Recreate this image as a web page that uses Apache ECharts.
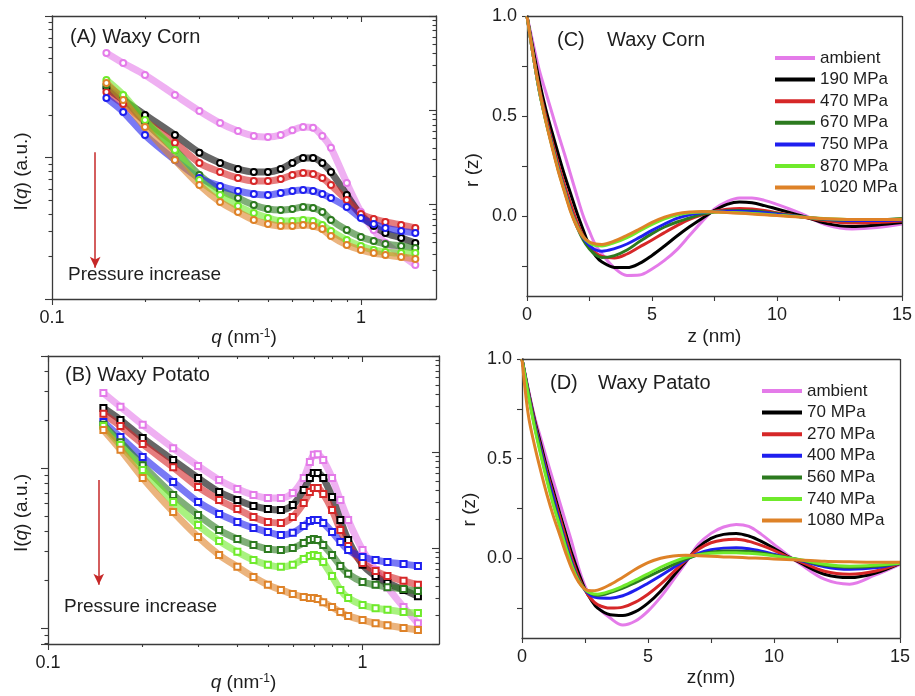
<!DOCTYPE html>
<html><head><meta charset="utf-8">
<script src="https://cdn.jsdelivr.net/npm/echarts@6/dist/echarts.min.js"></script>
<style>html,body{margin:0;padding:0;background:#fff}#c{width:915px;height:696px}</style>
</head><body><div id="c"></div>
<script>
// ---------- Panel A (Waxy Corn SAXS) ----------
const qA = [0.15,0.17,0.2,0.25,0.3,0.35,0.4,0.45,0.5,0.55,0.6,0.65,0.7,0.75,0.8,0.9,1.0,1.1,1.2,1.35,1.5];
const A_ambient = [54.8,46.5,38.3,27.7,21.3,17.5,15.4,14.2,13.96,14.4,15.6,16.4,16.2,14.2,11.7,6.60,4.12,3.07,2.49,2.05,1.74];
const A_190 = [31.0,25.5,20.0,14.4,10.8,9.15,8.29,7.90,7.90,8.29,9.15,9.92,9.92,9.15,7.90,5.43,3.92,3.28,2.93,2.70,2.49];
const A_470 = [29.0,23.9,18.1,12.7,9.15,7.90,7.16,6.82,6.82,7.05,7.52,7.77,7.64,7.16,6.39,5.01,3.99,3.68,3.50,3.33,3.18];
const A_670 = [32.5,26.3,17.8,11.3,7.52,5.89,5.17,4.62,4.33,4.26,4.33,4.47,4.40,4.12,3.62,3.07,2.74,2.57,2.45,2.37,2.29];
const A_750 = [26.3,21.0,14.4,9.60,7.16,6.29,5.80,5.52,5.43,5.61,5.80,5.89,5.80,5.52,5.17,4.47,3.74,3.39,3.18,3.02,2.93];
const A_870 = [35.3,27.7,18.4,11.3,6.93,5.43,4.54,4.05,3.74,3.56,3.56,3.62,3.56,3.33,3.02,2.61,2.37,2.22,2.15,2.11,2.11];
const A_1020 = [33.6,25.5,16.4,9.60,6.39,4.85,4.12,3.62,3.39,3.28,3.28,3.33,3.28,3.12,2.79,2.41,2.22,2.11,2.05,1.98,1.92];

// ---------- Panel B (Waxy Potato SAXS) ----------
const qB = [0.15,0.17,0.2,0.25,0.3,0.35,0.4,0.45,0.5,0.55,0.6,0.65,0.68,0.7,0.72,0.75,0.8,0.85,0.9,1.0,1.1,1.2,1.35,1.5];
const B_ambient = [29.4,24.1,18.6,13.3,10.3,8.41,7.39,6.78,6.49,6.49,6.98,8.66,10.9,12.1,12.2,11.2,8.66,6.31,4.73,3.07,2.30,1.80,1.35,1.07];
const B_70 = [23.7,19.95,15.4,11.2,8.66,7.08,6.31,5.79,5.54,5.46,5.87,7.29,8.66,9.31,9.31,8.66,6.59,4.73,3.55,2.48,2.11,1.91,1.73,1.58];
const B_270 = [21.8,18.3,14.1,10.1,7.61,6.31,5.54,4.94,4.60,4.53,4.94,6.04,7.08,7.50,7.50,6.88,5.46,4.10,3.25,2.55,2.27,2.11,1.97,1.86];
const B_400 = [19.4,15.6,11.7,8.18,6.13,5.16,4.60,4.22,3.98,3.81,3.93,4.34,4.67,4.73,4.73,4.53,3.98,3.45,3.07,2.78,2.66,2.58,2.51,2.44];
const B_560 = [18.6,14.5,10.4,6.78,5.08,4.10,3.60,3.30,3.12,3.07,3.16,3.40,3.55,3.60,3.55,3.30,2.86,2.44,2.18,1.94,1.86,1.80,1.75,1.70];
const B_740 = [18.3,13.9,9.72,6.13,4.40,3.50,2.99,2.66,2.48,2.41,2.48,2.70,2.82,2.86,2.82,2.58,2.11,1.73,1.54,1.39,1.33,1.30,1.26,1.24];
const B_1080 = [17.3,13.0,8.66,5.31,3.70,2.86,2.41,2.08,1.86,1.73,1.63,1.56,1.54,1.54,1.52,1.45,1.35,1.26,1.19,1.12,1.07,1.04,1.00,0.972];

// ---------- Panel C (Waxy Corn correlation) ----------
const zC = [0,0.25,0.5,0.75,1,1.25,1.5,1.75,2,2.25,2.5,2.75,3,3.5,4,4.5,5,5.5,6,6.5,7,7.5,8,8.5,9,9.5,10,10.5,11,12,13,14,15];
const C_ambient = [1.0,0.86,0.725,0.62,0.515,0.41,0.31,0.205,0.10,0.0,-0.078,-0.147,-0.19,-0.26,-0.297,-0.295,-0.265,-0.222,-0.168,-0.098,-0.028,0.035,0.072,0.09,0.09,0.078,0.058,0.035,0.01,-0.045,-0.065,-0.058,-0.04];
const C_190 = [1,0.83,0.67,0.535,0.42,0.31,0.205,0.11,0.015,-0.07,-0.15,-0.2,-0.23,-0.257,-0.258,-0.237,-0.197,-0.15,-0.1,-0.054,-0.012,0.028,0.058,0.07,0.066,0.052,0.035,0.018,0.0,-0.038,-0.053,-0.045,-0.033];
const C_470 = [1,0.81,0.635,0.5,0.375,0.26,0.155,0.06,-0.03,-0.1,-0.15,-0.185,-0.202,-0.21,-0.19,-0.155,-0.12,-0.083,-0.048,-0.017,0.006,0.024,0.034,0.038,0.035,0.028,0.016,0.006,-0.005,-0.025,-0.035,-0.032,-0.025];
const C_670 = [1,0.80,0.62,0.48,0.355,0.235,0.13,0.03,-0.055,-0.12,-0.165,-0.195,-0.208,-0.198,-0.17,-0.128,-0.088,-0.055,-0.03,-0.01,0.01,0.02,0.026,0.028,0.026,0.02,0.012,0.004,-0.004,-0.018,-0.024,-0.02,-0.012];
const C_750 = [1,0.80,0.62,0.48,0.355,0.235,0.13,0.03,-0.05,-0.11,-0.148,-0.17,-0.176,-0.163,-0.14,-0.107,-0.072,-0.04,-0.012,0.006,0.016,0.022,0.024,0.024,0.021,0.016,0.009,0.002,-0.005,-0.016,-0.022,-0.022,-0.02];
const C_870 = [1,0.80,0.62,0.475,0.35,0.23,0.125,0.025,-0.05,-0.105,-0.135,-0.148,-0.15,-0.133,-0.108,-0.075,-0.042,-0.014,0.005,0.016,0.02,0.02,0.018,0.016,0.013,0.009,0.004,0.0,-0.005,-0.014,-0.018,-0.018,-0.016];
const C_1020 = [1,0.80,0.625,0.475,0.345,0.225,0.12,0.02,-0.055,-0.105,-0.13,-0.14,-0.142,-0.125,-0.097,-0.065,-0.032,-0.006,0.012,0.02,0.022,0.02,0.017,0.014,0.01,0.006,0.002,-0.002,-0.006,-0.014,-0.018,-0.018,-0.016];

// ---------- Panel D (Waxy Potato correlation) ----------
const zD = [0,0.25,0.5,0.75,1,1.25,1.5,1.75,2,2.25,2.5,2.75,3,3.5,4,4.5,5,5.5,6,6.5,7,7.5,8,8.5,9,9.5,10,10.5,11,12,13,14,15];
const D_ambient = [1,0.85,0.71,0.6,0.49,0.385,0.28,0.175,0.07,-0.05,-0.14,-0.2,-0.245,-0.3,-0.335,-0.315,-0.265,-0.195,-0.11,-0.022,0.07,0.125,0.157,0.17,0.16,0.12,0.07,0.02,-0.025,-0.105,-0.13,-0.085,-0.03];
const D_70 = [1,0.84,0.695,0.57,0.445,0.335,0.225,0.12,0.015,-0.075,-0.155,-0.21,-0.25,-0.283,-0.287,-0.268,-0.225,-0.165,-0.09,-0.015,0.055,0.1,0.12,0.125,0.112,0.085,0.05,0.013,-0.02,-0.08,-0.097,-0.075,-0.025];
const D_270 = [1,0.835,0.685,0.55,0.43,0.315,0.205,0.095,-0.01,-0.095,-0.16,-0.205,-0.232,-0.25,-0.245,-0.22,-0.18,-0.13,-0.07,-0.01,0.045,0.078,0.092,0.095,0.085,0.065,0.04,0.01,-0.015,-0.065,-0.08,-0.065,-0.025];
const D_400 = [1,0.83,0.675,0.54,0.415,0.3,0.18,0.07,-0.03,-0.11,-0.16,-0.188,-0.198,-0.2,-0.188,-0.16,-0.125,-0.088,-0.048,-0.008,0.025,0.043,0.051,0.053,0.048,0.036,0.02,0.004,-0.01,-0.042,-0.055,-0.048,-0.025];
const D_560 = [1,0.825,0.665,0.525,0.395,0.275,0.165,0.055,-0.04,-0.11,-0.155,-0.178,-0.185,-0.172,-0.15,-0.122,-0.092,-0.062,-0.032,-0.004,0.018,0.03,0.036,0.037,0.034,0.026,0.015,0.004,-0.008,-0.035,-0.045,-0.04,-0.025];
const D_740 = [1,0.82,0.655,0.515,0.385,0.265,0.16,0.05,-0.045,-0.115,-0.158,-0.176,-0.18,-0.165,-0.14,-0.11,-0.078,-0.045,-0.018,0.004,0.018,0.025,0.028,0.028,0.025,0.02,0.012,0.003,-0.006,-0.03,-0.04,-0.035,-0.025];
const D_1080 = [1,0.72,0.565,0.435,0.315,0.21,0.117,0.022,-0.06,-0.12,-0.155,-0.163,-0.16,-0.132,-0.095,-0.055,-0.022,0.0,0.012,0.015,0.013,0.01,0.007,0.005,0.002,0.0,-0.003,-0.006,-0.008,-0.015,-0.018,-0.02,-0.02];

// ---------- labels / legend ----------
const namesC = ['ambient','190 MPa','470 MPa','670 MPa','750 MPa','870 MPa','1020 MPa'];
const namesD = ['ambient','70 MPa','270 MPa','400 MPa','560 MPa','740 MPa','1080 MPa'];
const colorsC = ['#e47be9','#000000','#d62728','#2c7a1f','#1f1fef','#6fea2b','#de8228'];
const colorsD = ['#e47be9','#000000','#d62728','#1f1fef','#2c7a1f','#6fea2b','#de8228'];
const seriesA = [A_ambient,A_190,A_470,A_670,A_750,A_870,A_1020];
const seriesB = [B_ambient,B_70,B_270,B_400,B_560,B_740,B_1080];
const seriesC = [C_ambient,C_190,C_470,C_670,C_750,C_870,C_1020];
const seriesD = [D_ambient,D_70,D_270,D_400,D_560,D_740,D_1080];

// tick values
const qMinorTicks = [0.2,0.3,0.4,0.5,0.6,0.7,0.8,0.9];
const yMinorA = [2,3,4,5,6,7,8,9,20,30,40,50,60,70,80,90];
const yMinorB = [0.8,0.9,2,3,4,5,6,7,8,9,20,30,40,50];
const yMinorRight = [2,3,4,5,6,7,8,9,20,30,40,50,60,70,80,90,200,300,400,500,600,700,800,900];
const zLabels = [0,5,10,15];
const rLabels = [0,0.5,1];
const rTicks = [-0.25,0,0.25,0.5,0.75,1];
// plot-frame extents of the r(z) panels (axis ranges) and arrows (data coordinates)
const zRange = [0, 15];
const rRange = [-0.4, 1.0];
const arrowA = {q:0.138, from:10.9, to:1.66};
const arrowB = {q:0.145, from:8.41, to:1.86};

const FONT = 'Liberation Sans, Arial, sans-serif';
const TXT = '#1e1e1e';
const AXC = '#3a3a3a';
const axLine = () => ({show:true, onZero:false, lineStyle:{color:AXC, width:1.3}});
const noLine = () => ({show:false, onZero:false});
const noLab = {show:false};
const noSplit = {show:false};
const tick = (len, inside, vals) => { const t = {show:true, length:len, inside:!!inside, lineStyle:{color:AXC, width:1.1}}; if (vals) t.customValues = vals; return t; };
const nameStyle = (pad) => ({fontSize:19, color:TXT, fontFamily:FONT, padding:pad||0, rich:{i:{fontStyle:'italic', fontSize:19, fontFamily:FONT, color:TXT}, s:{fontSize:12, fontFamily:FONT, color:TXT, verticalAlign:'top', lineHeight:19}}});
const labStyle = () => ({fontSize:18, color:TXT, fontFamily:FONT, margin:10});

const grids = [
  {left:52, top:16, width:384, height:283},   // 0 A
  {left:52, top:16, width:384, height:283},   // 1 A minor ticks
  {left:48, top:356, width:391, height:288},  // 2 B
  {left:48, top:356, width:391, height:288},  // 3 B minor ticks
  {left:527, top:16, width:378, height:280},  // 4 C
  {left:522, top:359, width:378, height:279}  // 5 D
];

function logX(grid, pos, opts) {
  return Object.assign({gridIndex:grid, type:'log', logBase:10, min:0.1, max:1.75, position:pos, splitLine:noSplit, axisLabel:noLab, axisLine:noLine()}, opts);
}
function logY(grid, pos, min, max, opts) {
  return Object.assign({gridIndex:grid, type:'log', logBase:10, min:min, max:max, position:pos, splitLine:noSplit, axisLabel:noLab, axisLine:noLine()}, opts);
}
function valAxis(grid, pos, min, max, opts) {
  return Object.assign({gridIndex:grid, type:'value', min:min, max:max, position:pos, splitLine:noSplit, axisLabel:noLab, axisLine:axLine()}, opts);
}

const xAxes = [
  // A
  logX(0,'bottom',{axisLine:axLine(), axisTick:tick(6,false), axisLabel:Object.assign({showMaxLabel:false}, labStyle()), name:'{i|q} (nm{s|-1})', nameLocation:'middle', nameGap:20, nameTextStyle:nameStyle()}),
  logX(0,'top',{axisLine:axLine(), axisTick:tick(6,true)}),
  logX(1,'bottom',{axisTick:tick(3,false,qMinorTicks)}),
  logX(1,'top',{axisTick:tick(3,true,qMinorTicks)}),
  // B
  logX(2,'bottom',{axisLine:axLine(), axisTick:tick(6,false), axisLabel:Object.assign({showMaxLabel:false}, labStyle()), name:'{i|q} (nm{s|-1})', nameLocation:'middle', nameGap:29, nameTextStyle:nameStyle()}),
  logX(2,'top',{axisLine:axLine(), axisTick:tick(6,true)}),
  logX(3,'bottom',{axisTick:tick(3,false,qMinorTicks)}),
  logX(3,'top',{axisTick:tick(3,true,qMinorTicks)}),
  // C (8)
  valAxis(4,'bottom',zRange[0],zRange[1],{interval:2.5, axisTick:tick(5,false), axisLabel:Object.assign({customValues:zLabels}, labStyle()), name:'z (nm)', nameLocation:'middle', nameGap:31, nameTextStyle:nameStyle()}),
  // D (9)
  valAxis(5,'bottom',zRange[0],zRange[1],{interval:2.5, axisTick:tick(5,false), axisLabel:Object.assign({customValues:zLabels}, labStyle()), name:'z(nm)', nameLocation:'middle', nameGap:30, nameTextStyle:nameStyle()})
];

const yAxes = [
  // A
  logY(0,'left',1,100,{axisLine:axLine(), axisTick:tick(7,false), name:'I({i|q}) (a.u.)', nameLocation:'middle', nameGap:21, nameTextStyle:nameStyle([0,28,0,0])}),
  logY(0,'right',1,1000,{axisLine:axLine(), axisTick:tick(7,true)}),
  logY(1,'left',1,100,{axisTick:tick(3.5,false,yMinorA)}),
  logY(1,'right',1,1000,{axisTick:tick(3.5,true,yMinorRight)}),
  // B
  logY(2,'left',0.794,50.1,{axisLine:axLine(), axisTick:tick(7,false), name:'I({i|q}) (a.u.)', nameLocation:'middle', nameGap:17, nameTextStyle:nameStyle([0,26,0,0])}),
  logY(2,'right',1,1000,{axisLine:axLine(), axisTick:tick(7,true)}),
  logY(3,'left',0.794,50.1,{axisTick:tick(3.5,false,yMinorB)}),
  logY(3,'right',1,1000,{axisTick:tick(3.5,true,yMinorRight)}),
  // C (8)
  valAxis(4,'left',rRange[0],rRange[1],{axisTick:tick(5,false,rTicks), axisLabel:Object.assign({customValues:rLabels, formatter:v=>Number(v).toFixed(1)}, labStyle()), name:'r (z)', nameLocation:'middle', nameGap:45, nameTextStyle:nameStyle([0,28,0,0])}),
  // D (9)
  valAxis(5,'left',rRange[0],rRange[1],{axisTick:tick(5,false,rTicks), axisLabel:Object.assign({customValues:rLabels, formatter:v=>Number(v).toFixed(1)}, labStyle()), name:'r (z)', nameLocation:'middle', nameGap:43, nameTextStyle:nameStyle([0,22,0,0])})
];

function scatterBand(name, xs, ys, color, axis, sym) {
  return {type:'line', name:name, xAxisIndex:axis, yAxisIndex:axis, data:xs.map((x,i)=>[x, ys[i]]),
    smooth:0.3, symbol:sym, symbolSize:6, showAllSymbol:true, silent:true,
    lineStyle:{color:color, width:7, opacity:0.6}, itemStyle:{color:color, borderColor:color, borderWidth:1.3}};
}
function corrLine(name, xs, ys, color, axis) {
  return {type:'line', name:name, xAxisIndex:axis, yAxisIndex:axis, data:xs.map((x,i)=>[x, ys[i]]),
    smooth:0.35, symbol:'none', silent:true, lineStyle:{color:color, width:3}, itemStyle:{color:color}};
}
function arrowLine(a) {
  return {silent:true, symbol:['none','arrow'], symbolSize:[8,11], label:{show:false},
    lineStyle:{color:'#c62828', width:1.5, type:'solid'},
    data:[[{coord:[a.q, a.from]}, {coord:[a.q, a.to]}]]};
}
// top and right edges of the plot frame, drawn in data space at the axis range limits
function frameEdges() {
  return {silent:true, symbol:['none','none'], label:{show:false}, emphasis:{disabled:true},
    lineStyle:{color:AXC, width:1.3, type:'solid', opacity:1},
    data:[[{coord:[zRange[0], rRange[1]]}, {coord:[zRange[1], rRange[1]]}],
          [{coord:[zRange[1], rRange[0]]}, {coord:[zRange[1], rRange[1]]}]]};
}

const series = [];
seriesA.forEach((ys,i)=>{ const s = scatterBand('A '+namesC[i], qA, ys, colorsC[i], 0, 'emptyCircle'); if (i===0) s.markLine = arrowLine(arrowA); series.push(s); });
seriesB.forEach((ys,i)=>{ const s = scatterBand('B '+namesD[i], qB, ys, colorsD[i], 4, 'emptyRect'); if (i===0) s.markLine = arrowLine(arrowB); series.push(s); });
seriesC.forEach((ys,i)=>{ const s = corrLine(namesC[i], zC, ys, colorsC[i], 8); if (i===0) s.markLine = frameEdges(); series.push(s); });
seriesD.forEach((ys,i)=>{ const s = corrLine(namesD[i], zD, ys, colorsD[i], 9); if (i===0) s.markLine = frameEdges(); series.push(s); });

const tStyle = (fs) => ({fontSize:fs, fontWeight:'normal', color:TXT, fontFamily:FONT});
const titles = [
  {text:'(A) Waxy Corn', left:70, top:27, padding:0, textStyle:tStyle(20)},
  {text:'(B) Waxy Potato', left:65, top:365, padding:0, textStyle:tStyle(20)},
  {text:'(C)', left:557, top:30, padding:0, textStyle:tStyle(20)},
  {text:'Waxy Corn', left:607, top:30, padding:0, textStyle:tStyle(20)},
  {text:'(D)', left:550, top:373, padding:0, textStyle:tStyle(20)},
  {text:'Waxy Patato', left:598, top:373, padding:0, textStyle:tStyle(20)},
  {text:'Pressure increase', left:68, top:265.5, padding:0, textStyle:tStyle(19)},
  {text:'Pressure increase', left:64, top:597.5, padding:0, textStyle:tStyle(19)}
];
const legStyle = {fontSize:17, color:TXT, fontFamily:FONT};
const legends = [
  {data:namesC, left:775, top:49.5, orient:'vertical', icon:'rect', itemWidth:40, itemHeight:4, itemGap:4.6, padding:0, selectedMode:false, textStyle:legStyle},
  {data:namesD, left:762, top:382.5, orient:'vertical', icon:'rect', itemWidth:40, itemHeight:4, itemGap:4.6, padding:0, selectedMode:false, textStyle:legStyle}
];

const chart = echarts.init(document.getElementById('c'), null, {renderer:'canvas'});
chart.setOption({
  animation:false, backgroundColor:'#ffffff',
  title:titles, legend:legends, grid:grids, xAxis:xAxes, yAxis:yAxes, series:series
});
</script></body></html>
